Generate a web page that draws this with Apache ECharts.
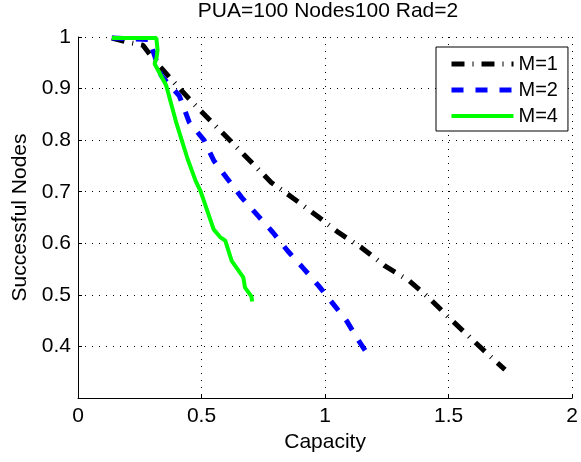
<!DOCTYPE html>
<html><head><meta charset="utf-8">
<script src="https://cdn.jsdelivr.net/npm/echarts@6/dist/echarts.min.js"></script>
<style>html,body{margin:0;padding:0;background:#fff}#c{width:581px;height:462px}</style>
</head><body><div id="c"></div>
<script>
var titleText = 'PUA=100 Nodes100 Rad=2';
var xName = 'Capacity';
var yName = 'Successful Nodes';
var seriesNames = ['M=1', 'M=2', 'M=4'];
var m1 = [[0.137,0.998],[0.2,0.99],[0.263,0.984],[0.297,0.962],[0.37,0.922],[0.463,0.873],[0.556,0.828],[0.622,0.796],[0.702,0.757],[0.782,0.718],[0.875,0.686],[0.968,0.653],[1.054,0.621],[1.149,0.591],[1.242,0.556],[1.341,0.527],[1.421,0.494],[1.501,0.456],[1.581,0.42],[1.661,0.384],[1.728,0.355]];
var m2 = [[0.137,0.998],[0.29,0.995],[0.303,0.974],[0.337,0.925],[0.41,0.886],[0.45,0.835],[0.51,0.80],[0.55,0.76],[0.60,0.728],[0.662,0.689],[0.729,0.653],[0.789,0.621],[0.849,0.585],[0.915,0.55],[0.975,0.517],[1.035,0.481],[1.088,0.449],[1.128,0.417],[1.165,0.39]];
var m4 = [[0.137,0.998],[0.317,0.998],[0.322,0.975],[0.318,0.96],[0.31,0.948],[0.357,0.906],[0.397,0.835],[0.444,0.763],[0.476,0.721],[0.496,0.701],[0.549,0.627],[0.575,0.612],[0.596,0.605],[0.622,0.566],[0.669,0.534],[0.676,0.514],[0.702,0.497],[0.705,0.487]];

var FONT = 'Liberation Sans';
var FS = 21;
var styles = [
  {color: '#000', width: 5, type: [13, 8, 1, 8], cap: 'butt'},
  {color: '#0000ff', width: 5, type: [12, 12], cap: 'butt'},
  {color: '#00ff00', width: 4, type: 'solid'}
];
var chart = echarts.init(document.getElementById('c'), null, {renderer: 'canvas'});
var axisCommon = {
  axisLine: {show: true, onZero: false, lineStyle: {color: '#000', width: 1}},
  axisTick: {show: true, inside: true, length: 4, lineStyle: {color: '#000'}},
  splitLine: {show: true, lineStyle: {color: '#000', width: 1, type: [1, 6]}},
  axisLabel: {color: '#000', fontSize: FS, fontFamily: FONT},
  nameTextStyle: {color: '#000', fontSize: FS, fontFamily: FONT},
  nameLocation: 'middle'
};
chart.setOption({
  animation: false,
  backgroundColor: '#fff',
  title: {text: titleText, left: 328, top: 1, padding: 0, textAlign: 'center',
    textStyle: {fontSize: FS, fontWeight: 'normal', color: '#000', fontFamily: FONT}},
  grid: {left: 78, right: 3, top: 37, bottom: 64, containLabel: false},
  xAxis: Object.assign({}, axisCommon, {type: 'value', min: 0, max: 2, interval: 0.5, name: xName, nameGap: 30,
    axisLabel: Object.assign({}, axisCommon.axisLabel, {margin: 8})}),
  yAxis: Object.assign({}, axisCommon, {type: 'value', min: 0.3, max: 1, interval: 0.1, name: yName, nameGap: 46,
    axisLabel: Object.assign({}, axisCommon.axisLabel, {margin: 7, formatter: function (v) {
      var r = Math.round(v * 10) / 10; if (r <= 0.3) return ''; return r === 1 ? '1' : String(r);
    }})}),
  legend: {
    left: 436, top: 47, orient: 'vertical', padding: [7, 10, 5, 13],
    borderColor: '#000', borderWidth: 1, backgroundColor: '#fff',
    itemWidth: 62, itemHeight: 20, itemGap: 6,
    itemStyle: {color: 'rgba(0,0,0,0)', borderWidth: 0},
    textStyle: {fontSize: 20, color: '#000', fontFamily: FONT},
    data: seriesNames.map(function (n, i) {
      return {name: n, lineStyle: {width: styles[i].width, type: styles[i].type, color: styles[i].color, cap: 'butt'}};
    })
  },
  series: seriesNames.map(function (n, i) {
    return {name: n, type: 'line', data: [m1, m2, m4][i], symbol: 'none', showSymbol: false,
      lineStyle: styles[i], itemStyle: {color: styles[i].color}};
  })
});
</script></body></html>
